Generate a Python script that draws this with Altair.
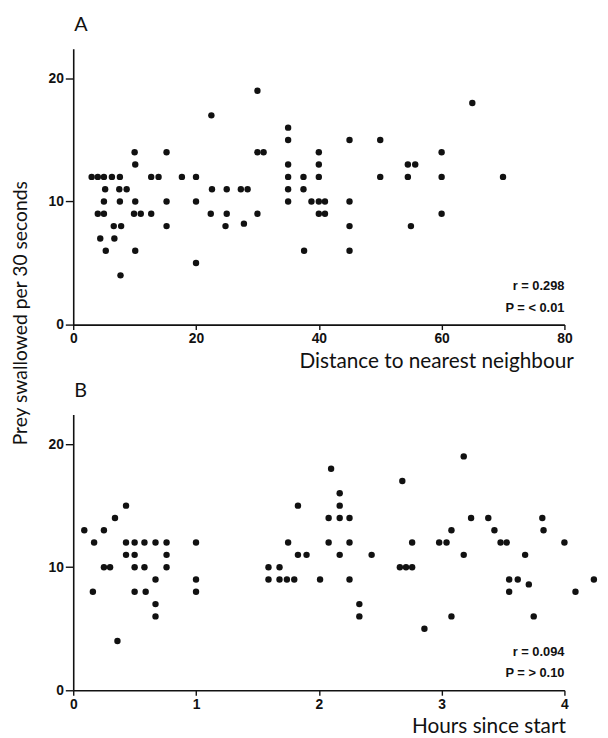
import altair as alt
import pandas as pd

# ---- Panel A: distance to nearest neighbour vs prey swallowed ----
a_dist = [3, 4, 5, 6.3, 7.6, 12.7, 13.9, 17.7, 20, 37.5, 40, 50, 54.5, 60, 70, 35,
          5.2, 7.5, 8.7, 22.6, 25, 27.3, 28.4, 35, 37.5,
          5, 7.6, 10.1, 15.2, 20, 35, 38.8, 40, 41, 45,
          4, 5, 9.9, 11, 12.7, 22.4, 25, 30, 40, 41, 60,
          6.6, 7.8, 15.2, 24.8, 27.8, 45, 55,
          4.4, 6.7,
          5.3, 10.1, 37.6, 45,
          20,
          7.7,
          10.1, 35, 40, 54.5, 55.7,
          10, 15.2, 30, 31, 40, 60,
          35, 45, 50,
          35,
          22.5,
          65,
          30]
a_prey = [12] * 16 + [11] * 9 + [10] * 10 + [9] * 11 + [8, 8, 8, 8, 8.2, 8, 8] + [7] * 2 + \
         [6] * 4 + [5] + [4] + [13] * 5 + [14] * 6 + [15] * 3 + [16] + [17] + [18] + [19]

# ---- Panel B: hours since start vs prey swallowed ----
b_hours = [0.09, 0.17, 0.16, 0.25, 0.25, 0.30, 0.34, 0.43, 0.36, 0.43, 0.43,
           0.50, 0.58, 0.67, 0.76, 0.50, 0.76, 0.50, 0.58, 0.76, 0.67, 0.50, 0.59,
           0.67, 0.67, 1.0, 1.0, 1.0,
           1.59, 1.68, 1.59, 1.68, 1.74, 1.80, 1.75, 1.83, 1.83, 1.90, 2.01,
           2.10, 2.17, 2.17, 2.08, 2.17, 2.25, 2.08, 2.25, 2.17, 2.25, 2.33, 2.33, 2.43,
           2.68, 2.76, 2.66, 2.71, 2.76, 2.86,
           2.98, 3.04, 3.08, 3.18, 3.24, 3.18, 3.08,
           3.38, 3.43, 3.48, 3.53, 3.68, 3.55, 3.62, 3.55, 3.71, 3.75, 3.82, 3.83,
           4.0, 4.09, 4.24]
b_prey = [13, 12, 8, 13, 10, 10, 14, 15, 4, 12, 11,
          12, 12, 12, 12, 11, 11, 10, 10, 10, 9, 8, 8,
          7, 6, 12, 9, 8,
          10, 10, 9, 9, 9, 9, 12, 15, 11, 11, 9,
          18, 16, 15, 14, 14, 14, 12, 12, 11, 9, 7, 6, 11,
          17, 12, 10, 10, 10, 5,
          12, 12, 13, 19, 14, 11, 6,
          14, 13, 12, 12, 11, 9, 9, 8, 8.6, 6, 14, 13,
          12, 8, 9]

y_ticks = [0, 10, 20]
a_ticks = [0, 20, 40, 60, 80]
b_ticks = [0, 1, 2, 3, 4]

W, H = 497, 279
INK = "#111111"
TFONT = "Lato"
LFONT = "Liberation Sans"


def axis_common(**kw):
    return alt.Axis(
        grid=False, domainColor=INK, domainWidth=1.6, tickColor=INK, tickWidth=1.4,
        labelFont=LFONT, labelFontSize=14, labelFontWeight="bold", labelColor=INK,
        labelFlush=False, titleFont=TFONT, titleFontWeight="normal", titleColor=INK,
        **kw)


def panel(xs, ys, xdom, xticks, xtitle, xtitle_x, letter, ytitle_on, r_txt, p_txt):
    df = pd.DataFrame({"x": xs, "prey": ys})
    yaxis_kw = dict(values=y_ticks, tickSize=8, labelPadding=2)
    if ytitle_on:
        yaxis_kw.update(title="Prey swallowed per 30 seconds", titleX=-53, titleY=267,
                        titleAngle=270, titleAlign="center", titleBaseline="middle",
                        titleFontSize=19.5)
    else:
        yaxis_kw.update(title=None)
    pts = alt.Chart(df).mark_circle(size=42, color=INK, opacity=1).encode(
        x=alt.X("x:Q", scale=alt.Scale(domain=xdom, nice=False, zero=False),
                axis=axis_common(values=xticks, tickSize=5, labelPadding=2,
                                 title=xtitle, titleX=xtitle_x, titleY=43,
                                 titleAlign="right", titleBaseline="alphabetic",
                                 titleFontSize=21)),
        y=alt.Y("prey:Q", scale=alt.Scale(domain=[0, 22.4], nice=False),
                axis=axis_common(**yaxis_kw)),
    )
    r_layer = alt.Chart(pd.DataFrame({"t": [r_txt]})).mark_text(
        align="right", baseline="middle", font=LFONT, fontSize=13, fontWeight="bold", color=INK
    ).encode(text="t:N", x=alt.value(W), y=alt.value(H - 39))
    p_layer = alt.Chart(pd.DataFrame({"t": [p_txt]})).mark_text(
        align="right", baseline="middle", font=LFONT, fontSize=13, fontWeight="bold", color=INK
    ).encode(text="t:N", x=alt.value(W), y=alt.value(H - 17))
    return alt.layer(pts, r_layer, p_layer).properties(
        width=W, height=H,
        title=alt.TitleParams(letter, anchor="start", frame="group", font=TFONT,
                              fontSize=20, fontWeight="normal", color=INK, offset=15,
                              baseline="alphabetic", dx=1, dy=17),
    )


chart_a = panel(a_dist, a_prey, [0, 80], a_ticks, "Distance to nearest neighbour", W + 9,
                "A", True, "r = 0.298", "P = < 0.01")
chart_b = panel(b_hours, b_prey, [0, 4], b_ticks, "Hours since start", W + 1,
                "B", False, "r = 0.094", "P = > 0.10")

chart = alt.vconcat(chart_a, chart_b, spacing=91, bounds="flush").properties(
    padding={"left": 3, "top": 3, "right": 2, "bottom": 2}, background="white"
).configure_view(strokeWidth=0)

chart.save("out.html", embed_options={"renderer": "svg", "actions": False})
